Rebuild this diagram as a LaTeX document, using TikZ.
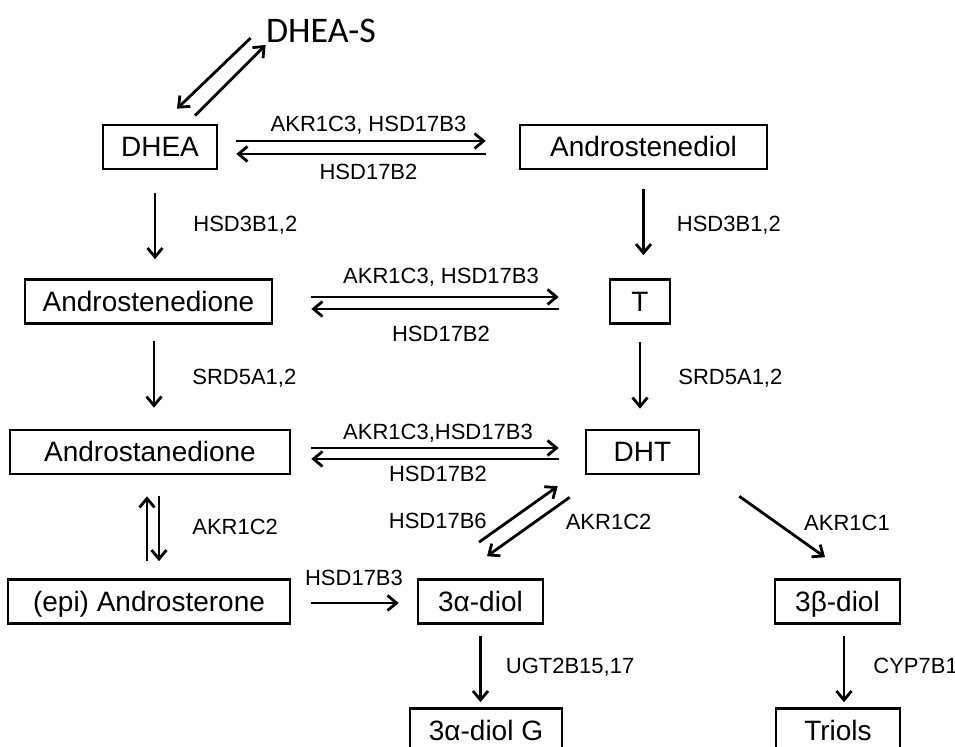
\documentclass[tikz,border=0pt]{standalone}
\usepackage{fontspec}
\setmainfont{Liberation Sans}
\newfontfamily\calibrifont{Carlito}
\usetikzlibrary{arrows.meta}

\tikzset{
  box/.style={draw, line width=1.3pt, inner sep=0pt, minimum height=22pt, text height=10pt, text depth=0pt, font=\fontsize{14}{16}\selectfont},
  arr/.style={line width=1.4pt, -{Straight Barb[length=4.5pt,width=7.5pt]}},
  lbl/.style={inner sep=0pt, text depth=0pt, font=\fontsize{11}{13}\selectfont}
}

\begin{document}
\begin{tikzpicture}[x=0.5pt,y=-0.5pt]
            \useasboundingbox (0,0) rectangle (955,747);
            \clip (0,0) rectangle (955,747);

            % Boxes
            \node[inner sep=0pt, font=\calibrifont\fontsize{18}{20}\selectfont] (dheas) at (321,31) {DHEA-S};
            \node[box, minimum width=57pt] (dhea) at (160,147) {DHEA};
            \node[box, minimum width=123.5pt] (adiol) at (643.5,147) {Androstenediol};
            \node[box, minimum width=123.5pt] (adione) at (148.5,301.5) {Androstenedione};
            \node[box, minimum width=30pt] (t) at (640,301.5) {T};
            \node[box, minimum width=140pt] (astane) at (150,452) {Androstanedione};
            \node[box, minimum width=56.5pt] (dht) at (642.5,452) {DHT};
            \node[box, minimum width=141pt] (epi) at (149,601.5) {(epi) Androsterone};
            \node[box, minimum width=62.5pt] (adiol3a) at (480.5,601.5) {3α-diol};
            \node[box, minimum width=62.5pt] (adiol3b) at (837.5,601.5) {3β-diol};
            \node[box, minimum width=76pt] (diolg) at (486,730.5) {3α-diol G};
            \node[box, minimum width=62pt] (triols) at (838,730.5) {Triols};

            % DHEA-S
            \draw[arr] ([shift={(-7.5pt,-3.5pt)}]dheas.west) -- ([shift={(8.5pt,7.5pt)}]dhea.north);
            \draw[arr] ([shift={(17.5pt,4pt)}]dhea.north) -- ([shift={(0pt,-7pt)}]dheas.west);

            % across
            \draw[arr, shorten <=9pt, shorten >=16.5pt] ([yshift=3pt]dhea.east) -- node[lbl, above=4pt] {AKR1C3, HSD17B3} ([yshift=3pt]adiol.west);
            \draw[arr, shorten <=16.5pt, shorten >=9pt] ([yshift=-3.5pt]adiol.west) -- node[lbl, below=4.5pt] {HSD17B2} ([yshift=-3.5pt]dhea.east);
            \draw[arr, shorten <=19pt, shorten >=25pt] ([yshift=2.25pt]adione.east) -- node[lbl, above=6pt] {AKR1C3, HSD17B3} ([yshift=2.25pt]t.west);
            \draw[arr, shorten <=25pt, shorten >=19pt] ([yshift=-3.75pt]t.west) -- node[lbl, below=8pt] {HSD17B2} ([yshift=-3.75pt]adione.east);
            \draw[arr, shorten <=10pt, shorten >=13pt] ([yshift=2pt]astane.east) -- node[lbl, above=3.5pt] {AKR1C3,HSD17B3} ([yshift=2pt]dht.west);
            \draw[arr, shorten <=13pt, shorten >=10pt] ([yshift=-3.5pt]dht.west) -- node[lbl, below=3pt] {HSD17B2} ([yshift=-3.5pt]astane.east);
            \draw[arr, shorten <=10pt, shorten >=9pt] ([yshift=-0.75pt]epi.east) -- node[lbl, above=8pt] {HSD17B3} ([yshift=-0.75pt]adiol3a.west);

            % down
            \draw[arr, shorten <=11.5pt, shorten >=9.5pt] ([xshift=-2.5pt]dhea.south) -- node[lbl, right=18.5pt] {HSD3B1,2} ([xshift=-2.5pt]dhea.south |- adione.north);
            \draw[arr, shorten <=9.5pt, shorten >=11.5pt] (adiol.south) -- node[lbl, right=16pt] {HSD3B1,2} (adiol.south |- t.north);
            \draw[arr, shorten <=8pt, shorten >=10.5pt] ([xshift=2.75pt]adione.south) -- node[lbl, right=18.5pt] {SRD5A1,2} ([xshift=2.75pt]adione.south |- astane.north);
            \draw[arr, shorten <=8.5pt, shorten >=10pt] (t.south) -- node[lbl, right=18.5pt] {SRD5A1,2} (t.south |- dht.north);
            \draw[arr, shorten <=8.5pt, shorten >=10.5pt] ([xshift=-1.5pt]astane.south |- epi.north) -- ([xshift=-1.5pt]astane.south);
            \draw[arr, shorten <=10.5pt, shorten >=8.5pt] ([xshift=4.5pt]astane.south) -- node[lbl, right=16pt] {AKR1C2} ([xshift=4.5pt]astane.south |- epi.north);
            \draw[arr, shorten <=5.5pt, shorten >=2.5pt] (adiol3a.south) -- node[lbl, right=12pt] {UGT2B15,17} (adiol3a.south |- diolg.north);
            \draw[arr, shorten <=5.5pt, shorten >=2.5pt] ([xshift=3.25pt]adiol3b.south) -- node[lbl, right=14pt] {CYP7B1} ([xshift=3.25pt]adiol3b.south |- triols.north);

            % DHT diagonals
            \draw[arr] ([shift={(-0.75pt,18pt)}]adiol3a.north) -- node[lbl, pos=0.38, left=10.4pt] {HSD17B6} ([shift={(-13.5pt,-5.5pt)}]dht.south west);
            \draw[arr] ([shift={(-7.5pt,-11pt)}]dht.south west) -- node[lbl, pos=0.41, right=14.3pt] {AKR1C2} ([shift={(3.25pt,11pt)}]adiol3a.north);
            \draw[arr] ([shift={(19.5pt,-10.5pt)}]dht.south east) -- node[lbl, pos=0.43, right=13.3pt] {AKR1C1} ([shift={(-6.25pt,10.5pt)}]adiol3b.north);
\end{tikzpicture}
\end{document}
